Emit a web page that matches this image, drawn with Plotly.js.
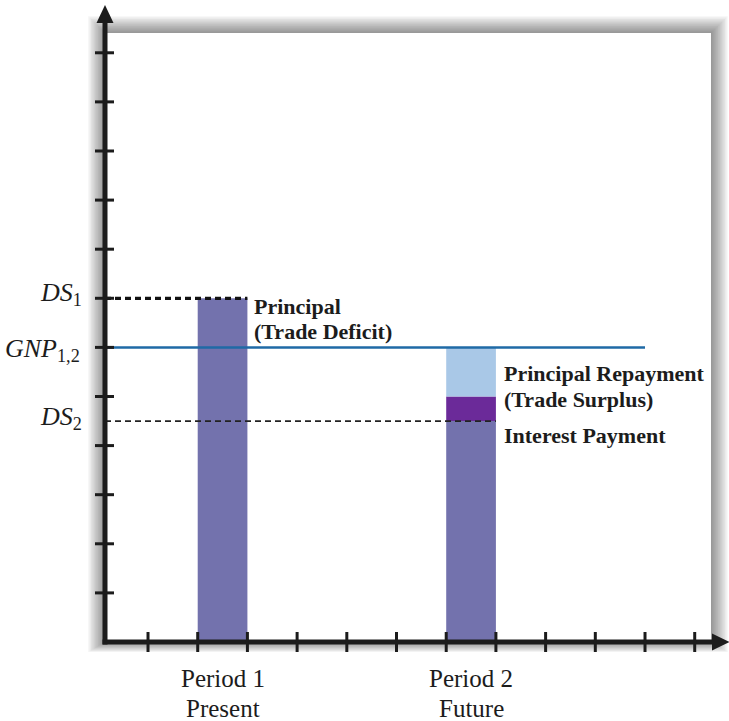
<!DOCTYPE html>
<html>
<head>
<meta charset="utf-8">
<script src="https://cdn.plot.ly/plotly-3.0.1.min.js"></script>
<style>html,body{margin:0;padding:0;background:#fff;}#chart{width:729px;height:721px;}</style>
</head>
<body>
<div id="chart"></div>
<script>
// ---- data ----
const periodX = [2.5, 7.5];
const periodLabels = ['Period 1', 'Period 2'];
const periodSubLabels = ['Present', 'Future'];
const DS1 = 7;
const DS2 = 4.5;
const GNP = 6;
const domesticSpending = [DS1, DS2];
const interestPayment = [0.5];
const principalRepayment = [1];
const xTicks = [1, 2, 3, 4, 5, 6, 7, 8, 9, 10, 11, 12];
const yTicks = [1, 2, 3, 4, 5, 6, 7, 8, 9, 10, 11, 12];
const gnpLineEnd = 11;

// ---- layout helpers (pixel -> data) ----
const W = 729, H = 721;
const XR = [-1.978, 12.690], YR = [-1.609, 13.075];
const px = p => XR[0] + p / W * (XR[1] - XR[0]);
const py = q => YR[1] - q / H * (YR[1] - YR[0]);
const AX0 = px(105); // y-axis position
const AY0 = py(642); // x-axis position

const serif = '"Liberation Serif", "Times New Roman", serif';
const ink = '#1c1c1c';

const traces = [
  {type: 'bar', x: periodX, y: domesticSpending, base: [0, 0], width: 1,
   marker: {color: '#7372ad', line: {width: 0}}, hoverinfo: 'skip'},
  {type: 'bar', x: [periodX[1]], y: interestPayment, base: [DS2], width: 1,
   marker: {color: '#6b2a99', line: {width: 0}}, hoverinfo: 'skip'},
  {type: 'bar', x: [periodX[1]], y: principalRepayment, base: [DS2 + interestPayment[0]], width: 1,
   marker: {color: '#a9c8e7', line: {width: 0}}, hoverinfo: 'skip'},
  {type: 'scatter', mode: 'lines', x: [AX0, gnpLineEnd], y: [GNP, GNP],
   line: {color: '#1f6aa6', width: 2.5}, hoverinfo: 'skip'},
  {type: 'scatter', mode: 'lines', x: [AX0, periodX[0] + 0.5], y: [DS1, DS1],
   line: {color: '#111', width: 3.2, dash: '6px,4px'}, hoverinfo: 'skip'},
  {type: 'scatter', mode: 'lines', x: [AX0, periodX[1] + 0.5], y: [DS2, DS2],
   line: {color: '#222', width: 1.8, dash: '6px,4px'}, hoverinfo: 'skip'}
];

const shapes = [];
// drop shadow of the frame
const fx0 = 105, fx1 = 711, fy0 = 33, fy1 = 642;
for (let i = 12; i >= 1; i--) {
  const d = i * 1.4;
  shapes.push({type: 'rect', layer: 'below', xref: 'x', yref: 'y',
    x0: px(fx0 - d), x1: px(fx1 + d), y0: py(fy1 + d * 0.6), y1: py(fy0 - d),
    line: {width: 0}, fillcolor: 'rgba(0,0,0,0.04)'});
}
shapes.push({type: 'rect', layer: 'below', xref: 'x', yref: 'y',
  x0: px(fx0), x1: px(fx1), y0: py(fy1), y1: py(fy0),
  line: {width: 0}, fillcolor: '#ffffff'});
// axes lines
shapes.push({type: 'line', layer: 'above', xref: 'x', yref: 'y',
  x0: AX0, x1: AX0, y0: py(644.5), y1: py(20), line: {color: ink, width: 5}});
shapes.push({type: 'line', layer: 'above', xref: 'x', yref: 'y',
  x0: px(102.5), x1: px(716), y0: AY0, y1: AY0, line: {color: ink, width: 5}});
// arrow heads
shapes.push({type: 'path', layer: 'above', xref: 'x', yref: 'y',
  path: `M ${AX0} ${py(5)} L ${px(96.5)} ${py(23)} L ${px(113.5)} ${py(23)} Z`,
  fillcolor: ink, line: {width: 0}});
shapes.push({type: 'path', layer: 'above', xref: 'x', yref: 'y',
  path: `M ${px(729.5)} ${AY0} L ${px(712)} ${py(633.5)} L ${px(712)} ${py(650.5)} Z`,
  fillcolor: ink, line: {width: 0}});
// ticks
yTicks.forEach(t => shapes.push({type: 'line', layer: 'above', xref: 'x', yref: 'y',
  x0: px(95), x1: px(114), y0: t, y1: t, line: {color: ink, width: 3}}));
xTicks.forEach(t => shapes.push({type: 'line', layer: 'above', xref: 'x', yref: 'y',
  x0: t, x1: t, y0: py(632), y1: py(652), line: {color: ink, width: 3}}));

const ann = (text, xp, yp, opts) => Object.assign({
  text: text, xref: 'x', yref: 'y', x: px(xp), y: py(yp), showarrow: false,
  xanchor: 'left', yanchor: 'middle', font: {family: serif, size: 22, color: ink}
}, opts || {});
const axisFont = {family: serif, size: 26, color: ink};

const annotations = [
  ann('<i>DS</i><sub>1</sub>', 84, 294, {xanchor: 'right', font: axisFont}),
  ann('<i>GNP</i><sub>1,2</sub>', 82, 350, {xanchor: 'right', font: axisFont}),
  ann('<i>DS</i><sub>2</sub>', 84, 418, {xanchor: 'right', font: axisFont}),
  ann('<b>Principal</b>', 252, 306),
  ann('<b>(Trade Deficit)</b>', 252, 331),
  ann('<b>Principal Repayment</b>', 502, 373),
  ann('<b>(Trade Surplus)</b>', 502, 399),
  ann('<b>Interest Payment</b>', 502, 435)
];
periodX.forEach((x, i) => {
  annotations.push({text: periodLabels[i], xref: 'x', yref: 'y', x: x, y: py(678),
    showarrow: false, xanchor: 'center', yanchor: 'middle',
    font: {family: serif, size: 25, color: ink}});
  annotations.push({text: periodSubLabels[i], xref: 'x', yref: 'y', x: x, y: py(708),
    showarrow: false, xanchor: 'center', yanchor: 'middle',
    font: {family: serif, size: 25, color: ink}});
});

const layout = {
  width: W, height: H,
  margin: {l: 0, r: 0, t: 0, b: 0, pad: 0},
  paper_bgcolor: '#ffffff', plot_bgcolor: '#ffffff',
  showlegend: false, barmode: 'overlay',
  xaxis: {range: XR, visible: false, fixedrange: true},
  yaxis: {range: YR, visible: false, fixedrange: true},
  shapes: shapes, annotations: annotations
};

Plotly.newPlot('chart', traces, layout, {staticPlot: true, displayModeBar: false});
</script>
</body>
</html>
